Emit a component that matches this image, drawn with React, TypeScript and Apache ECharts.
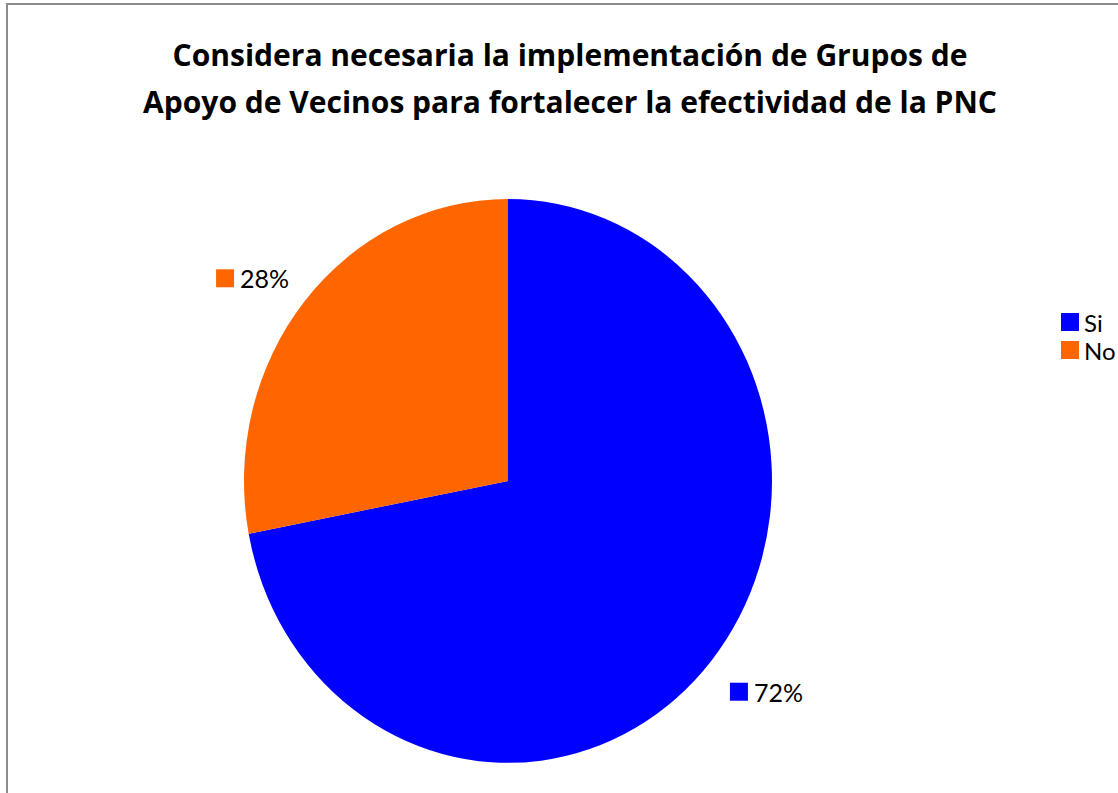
import React, { useEffect, useRef } from "react";
import * as echarts from "echarts";

const titleLines = [
  "Considera necesaria la implementación de Grupos de",
  "Apoyo de Vecinos para fortalecer la efectividad de la PNC",
];
const categories = ["Si", "No"];
const values = [72, 28];
const colors = ["#0000FF", "#FF6600"];

const FONT = "Lato, 'Open Sans', sans-serif";
const TITLE_FONT = "'Open Sans', Lato, sans-serif";
const CX = 508;
const CY = 481;
const RX = 264;
const RY = 282;

export default function App() {
  const ref = useRef<HTMLDivElement>(null);
  useEffect(() => {
    if (!ref.current) return;
    const chart = echarts.init(ref.current, null, { renderer: "svg" });
    const total = values.reduce((a, b) => a + b, 0);
    const startOf = (i: number) => {
      let s = 0;
      for (let k = 0; k < i; k++) s += values[k];
      return -Math.PI / 2 + (s / total) * Math.PI * 2;
    };
    const renderItem = (params: any, api: any) => {
      const i = params.seriesIndex;
      const v = api.value(0);
      const start = startOf(i);
      const end = start + (v / total) * Math.PI * 2;
      const mid = (start + end) / 2;
      const dx = Math.cos(mid);
      const dy = Math.sin(mid);
      const ax = CX + dx * RX * 1.15 + (dx >= 0 ? 25 : -21);
      const ay = CY + dy * RY * 1.15 + 4;
      const pct = Math.round((v / total) * 100) + "%";
      return {
        type: "group",
        children: [
          {
            type: "sector",
            shape: { cx: CX, cy: CY, r: RX, r0: 0, startAngle: start, endAngle: end, clockwise: true },
            originX: CX,
            originY: CY,
            scaleY: RY / RX,
            style: { fill: colors[i], stroke: "none" },
          },
          {
            type: "rect",
            shape: { x: ax - 37, y: ay - 9, width: 18, height: 18 },
            style: { fill: colors[i] },
          },
          {
            type: "text",
            x: ax - 13,
            y: ay,
            style: {
              text: pct,
              fill: "#000",
              font: `25px ${FONT}`,
              align: "left",
              verticalAlign: "middle",
            },
          },
        ],
      };
    };
    chart.setOption({
      animation: false,
      backgroundColor: "#ffffff",
      title: {
        text: titleLines.join("\n"),
        left: 570,
        textAlign: "center",
        top: 31,
        padding: 0,
        textStyle: {
          fontFamily: TITLE_FONT,
          fontWeight: "bold",
          fontSize: 30,
          lineHeight: 47,
          color: "#000",
        },
      },
      legend: {
        orient: "vertical",
        left: 1056,
        top: 305,
        icon: "rect",
        itemWidth: 18,
        itemHeight: 18,
        itemGap: 4,
        data: categories,
        textStyle: { fontFamily: FONT, fontSize: 24, color: "#000", lineHeight: 18 },
      },
      graphic: [
        {
          type: "rect",
          shape: { x: 7, y: 4, width: 1300, height: 1000 },
          style: { fill: "none", stroke: "#8c8c8c", lineWidth: 2 },
          silent: true,
        },
      ],
      series: categories.map((name, i) => ({
        type: "custom",
        name,
        coordinateSystem: "none",
        itemStyle: { color: colors[i] },
        renderItem,
        data: [[values[i]]],
      })),
    });
    return () => chart.dispose();
  }, []);
  return (
    <div
      ref={ref}
      style={{ position: "fixed", left: 0, top: 0, width: 1118, height: 793, background: "#fff" }}
    />
  );
}
